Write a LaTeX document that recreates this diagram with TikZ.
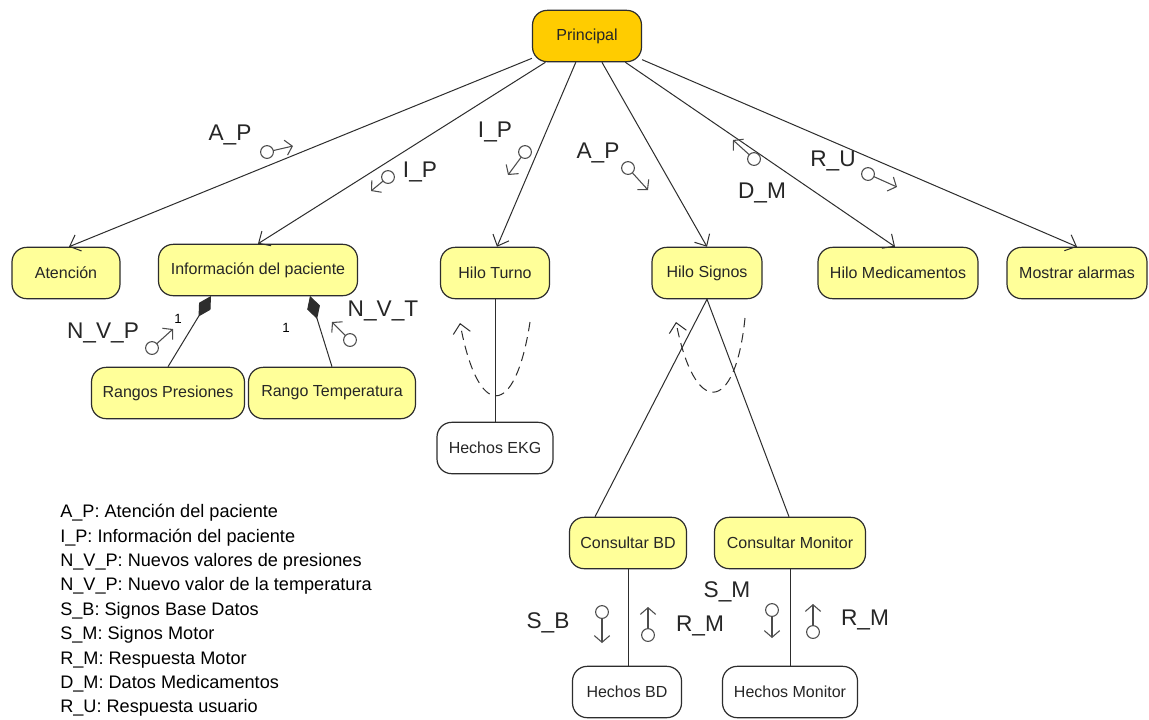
\documentclass[tikz,border=0pt]{standalone}
\usepackage{fontspec}
\setmainfont{Liberation Sans}
\usetikzlibrary{arrows.meta,calc}
\definecolor{nodeyellow}{RGB}{255,255,153}
\definecolor{principalgold}{RGB}{255,204,0}
\definecolor{linegray}{RGB}{45,45,45}
\newcommand\flowtok[2]{%
  \draw[tokline] (#1) circle[radius=4.8pt];
  \draw[tokline,-{Straight Barb[length=5pt,width=11.5pt]}] ($(#1)!4.8pt!(#2)$) -- (#2);}
\begin{document}
\begin{tikzpicture}[x=0.75pt,y=-0.75pt,
  box/.style={draw=linegray, line width=0.9pt, rounded corners=11pt, fill=nodeyellow,
    minimum height=38.5pt, inner sep=0pt, font=\fontsize{12}{14}\selectfont, text=black!85},
  wbox/.style={box, fill=white},
  w/.style={minimum width=#1*0.75pt},
  conn/.style={draw=linegray, line width=0.75pt},
  flow/.style={conn, -{Straight Barb[length=7pt,width=13pt]}},
  comp/.style={conn, -{Diamond[length=18pt,width=10pt]}},
  dflow/.style={conn, dash pattern=on 7pt off 4.5pt, -{Straight Barb[length=7pt,width=13pt]}},
  tokline/.style={draw=black!70, line width=0.8pt},
  lbl/.style={font=\fontsize{17}{18}\selectfont, text=black!85, inner sep=0pt},
  mult/.style={font=\fontsize{10}{11}\selectfont, inner sep=0pt}
]
\useasboundingbox (0,0) rectangle (1149,719);
\fill[white] (0,0) rectangle (1149,719);

% nodes
\node[box, w=109, fill=principalgold] (pr) at (587,36) {Principal};
\node[box, w=108] (at) at (66,273) {Atención};
\node[box, w=199] (ip) at (258,270) {Información del paciente};
\node[box, w=109] (ht) at (495,273) {Hilo Turno};
\node[box, w=110] (hs) at (707,273) {Hilo Signos};
\node[box, w=160] (hm) at (898,273) {Hilo Medicamentos};
\node[box, w=140] (ma) at (1077,273) {Mostrar alarmas};
\node[box, w=153] (rp) at (168,393) {Rangos Presiones};
\node[box, w=167] (rt) at (332,393) {Rango Temperatura};
\node[wbox, w=116] (he) at (495,448) {Hechos EKG};
\node[box, w=117] (cb) at (628,543) {Consultar BD};
\node[box, w=151] (cm) at (790,543) {Consultar Monitor};
\node[wbox, w=109] (hb) at (627,692) {Hechos BD};
\node[wbox, w=135] (hmo) at (790,692) {Hechos Monitor};

% edges from Principal
\draw[flow] (pr) -- ($(at.north)+(3,0)$);
\draw[flow] (pr) -- (ip.north);
\draw[flow] (pr) -- ($(ht.north)+(2,0)$);
\draw[flow] (pr) -- (hs.north);
\draw[flow] (pr) -- ($(hm.north)+(-3,0)$);
\draw[flow] (pr) -- (ma.north);

% composition
\coordinate (d1) at (211,296);
\coordinate (d2) at (310,296);
\draw[comp] (rp.north) -- (d1);
\draw[comp] (rt.north) -- (d2);
\node[mult] (m1) at (178,319) {1};
\node[mult] (m2) at (286,328) {1};

% lower connectors
\draw[conn] (ht.south) -- (he.north);
\draw[conn] (hs.south) -- ($(cb.north)+(-33,0)$);
\draw[conn] (hs.south) -- ($(cm.north)+(-1,0)$);
\draw[conn] (cb.south) -- (cb.south |- hb.north);
\draw[conn] (cm.south) -- (cm.south |- hmo.north);

% dashed loops
\coordinate (t1) at (530,322);
\coordinate (t2) at (460,323);
\draw[dflow] (t1) .. controls (515,420) and (478,420) .. (t2);
\coordinate (s1) at (745,318);
\coordinate (s2) at (676,322);
\draw[dflow] (s1) .. controls (735,416) and (694,416) .. (s2);

% flow tokens
\coordinate (c1) at (267,152); \coordinate (e1) at (293,146);
\coordinate (c2) at (388,177); \coordinate (e2) at (371,191);
\coordinate (c3) at (525,152); \coordinate (e3) at (508,175);
\coordinate (c4) at (628,168); \coordinate (e4) at (648,190);
\coordinate (c5) at (754,159); \coordinate (e5) at (733,140);
\coordinate (c6) at (868,174); \coordinate (e6) at (897,187);
\coordinate (c7) at (152,348); \coordinate (e7) at (173,329);
\coordinate (c8) at (350,340); \coordinate (e8) at (332,322);
\coordinate (c9) at (602,612); \coordinate (e9) at (602,643);
\coordinate (c10) at (648,635); \coordinate (e10) at (648,607);
\coordinate (c11) at (772,610); \coordinate (e11) at (772,638);
\coordinate (c12) at (813,632); \coordinate (e12) at (813,604);
\flowtok{c1}{e1}
\flowtok{c2}{e2}
\flowtok{c3}{e3}
\flowtok{c4}{e4}
\flowtok{c5}{e5}
\flowtok{c6}{e6}
\flowtok{c7}{e7}
\flowtok{c8}{e8}
\flowtok{c9}{e9}
\flowtok{c10}{e10}
\flowtok{c11}{e11}
\flowtok{c12}{e12}

% token labels
\node[lbl] (l1) at (230,135) {A\_P};
\node[lbl] (l2) at (420,172) {I\_P};
\node[lbl] (l3) at (495,132) {I\_P};
\node[lbl] (l4) at (598,153) {A\_P};
\node[lbl] (l5) at (762,193) {D\_M};
\node[lbl] (l6) at (833,161) {R\_U};
\node[lbl] (l7) at (103,333) {N\_V\_P};
\node[lbl] (l8) at (383,311) {N\_V\_T};
\node[lbl] (l9) at (548,623) {S\_B};
\node[lbl] (l10) at (700,626) {R\_M};
\node[lbl] (l11) at (727,592) {S\_M};
\node[lbl] (l12) at (865,620) {R\_M};

% legend
\node[anchor=north west, align=left, inner sep=0pt, font=\fontsize{13.6}{18.3}\selectfont] (legend) at (60,504)
{A\_P: Atención del paciente\\
I\_P: Información del paciente\\
N\_V\_P: Nuevos valores de presiones\\
N\_V\_P: Nuevo valor de la temperatura\\
S\_B: Signos Base Datos\\
S\_M: Signos Motor\\
R\_M: Respuesta Motor\\
D\_M: Datos Medicamentos\\
R\_U: Respuesta usuario};
\end{tikzpicture}
\end{document}
